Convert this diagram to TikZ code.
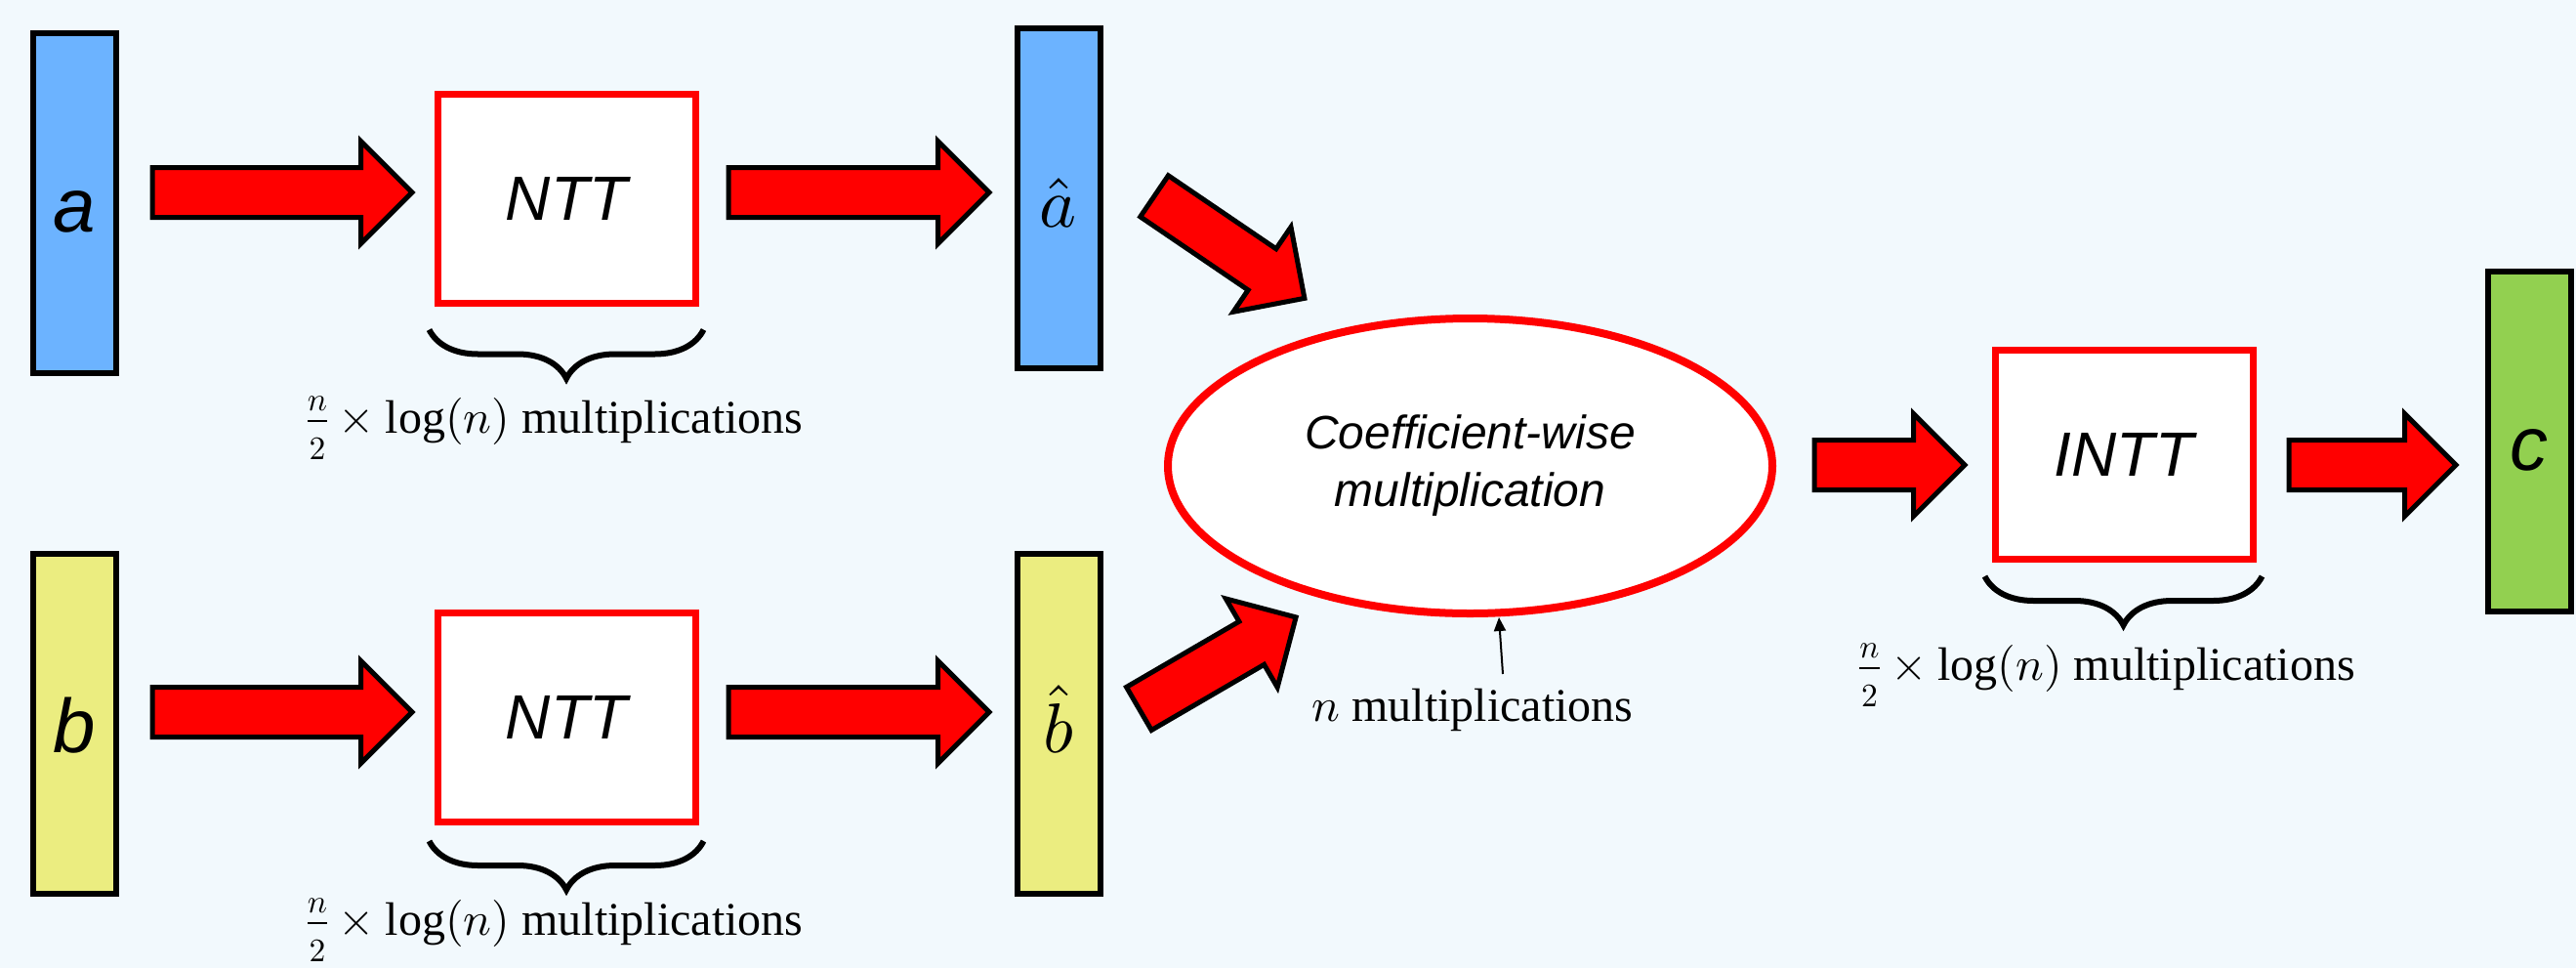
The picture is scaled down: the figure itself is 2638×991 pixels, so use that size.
\documentclass[tikz,border=0pt]{standalone}
\usepackage{fontspec}
\setmainfont{Liberation Serif}
\newfontfamily\arialf{Liberation Sans}
\DeclareFontShape{OML}{cmm}{m}{it}{<->cmmi10}{}
\DeclareFontShape{OMS}{cmsy}{m}{n}{<->cmsy10}{}
\DeclareFontShape{OT1}{cmr}{m}{n}{<->cmr10}{}
\DeclareFontShape{OMX}{cmex}{m}{n}{<->cmex10}{}
\usetikzlibrary{shapes.geometric,shapes.arrows,arrows.meta,decorations.pathreplacing}
\definecolor{bgc}{RGB}{242,249,253}
\definecolor{blueA}{RGB}{108,179,255}
\definecolor{yelA}{RGB}{235,237,128}
\definecolor{grnA}{RGB}{146,208,80}
\newcommand\costlabel{${\scriptstyle n\vrule depth 8pt width 0pt\over\scriptstyle 2\vrule height 37pt width 0pt}\times\log(n)$ multiplications}
\begin{document}
\begin{tikzpicture}[x=1pt,y=-1pt,
  vecbar/.style={draw=black, line width=6pt, minimum width=85pt, minimum height=348pt,
    inner sep=0pt, text height=58pt, text depth=0pt,
    font=\arialf\itshape\fontsize{78}{90}\selectfont},
  vechat/.style={vecbar, font=\fontsize{72}{80}\selectfont},
  opbox/.style={draw=red, fill=white, line width=7pt, minimum width=264pt, minimum height=214pt,
    inner sep=0pt, font=\arialf\itshape\fontsize{64}{72}\selectfont},
  blk/.style={single arrow, draw=black, fill=red, line width=5pt, inner xsep=0pt, inner ysep=23pt,
    minimum width=0pt, single arrow head extend=27pt, single arrow tip angle=90, anchor=tail},
  brc/.style={decorate, decoration={brace, mirror, amplitude=50pt}, line width=6pt},
  lab/.style={font=\fontsize{48}{58}\selectfont, anchor=base, inner sep=0pt}
]
\useasboundingbox (0,0) rectangle (2638,991);
\fill[bgc] (0,0) rectangle (2638,991);

% vectors
\node[vecbar, fill=blueA] (a) at (76.5,208) {a};
\node[vechat, fill=blueA] (ah) at (1084,203) {$\hat{a}$};
\node[vecbar, fill=yelA] (b) at (76.5,741) {b};
\node[vechat, fill=yelA] (bh) at (1084,741) {$\hat{b}$};
\node[vecbar, fill=grnA] (c) at (2590,452) {c};

% transforms
\node[opbox] (ntt1) at (580,203) {NTT};
\node[opbox] (ntt2) at (580,734.5) {NTT};
\node[opbox] (intt) at (2175,465.5) {INTT};

% coefficient-wise
\node[ellipse, draw=red, fill=white, line width=8pt, minimum width=619pt, minimum height=302pt,
  inner sep=0pt, align=center, font=\arialf\itshape\fontsize{48}{59}\selectfont]
  (cw) at (1505.5,477) {Coefficient-wise\\multiplication};

% block arrows (placed by their tails)
\node[blk, minimum height=266pt] (ar1) at (153.5,197) {};
\node[blk, minimum height=267pt] (ar2) at (743.5,197) {};
\node[blk, minimum height=266pt] (ar3) at (153.5,729) {};
\node[blk, minimum height=267pt] (ar4) at (743.5,729) {};
\node[blk, minimum height=186pt, rotate=-34.2] (ar5) at (1180,199.4) {};
\node[blk, minimum height=186pt, rotate=30.2] (ar6) at (1164.2,726.7) {};
\node[blk, minimum height=154pt] (ar7) at (1855.5,476) {};
\node[blk, minimum height=171pt] (ar8) at (2341.5,476) {};

% braces
\draw[brc] ([xshift=-5pt,yshift=-24pt]ntt1.south west) -- ([xshift=5pt,yshift=-24pt]ntt1.south east);
\draw[brc] ([xshift=-5pt,yshift=-16pt]ntt2.south west) -- ([xshift=5pt,yshift=-16pt]ntt2.south east);
\draw[brc] ([xshift=-7pt,yshift=-14pt]intt.south west) -- ([xshift=6pt,yshift=-14pt]intt.south east);

% labels
\node[lab] (l1) at (568,443) {\costlabel};
\node[lab] (l2) at (568,957) {\costlabel};
\node[lab] (l3) at (2157.5,696) {\costlabel};
\node[lab] (l4) at (1508,738) {$n$ multiplications};

\coordinate (nt) at (1539,690);
\coordinate (ne) at (1535,632);
\draw[line width=2pt, -{Triangle[length=14pt,width=12pt]}] (nt) -- (ne);
\end{tikzpicture}
\end{document}
